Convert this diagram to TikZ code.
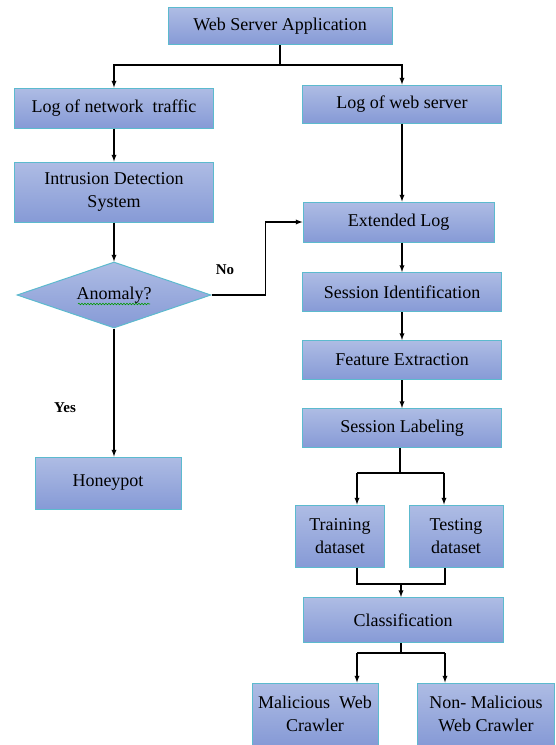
\documentclass[tikz,border=0pt]{standalone}
\usepackage{fontspec}
\setmainfont{Liberation Serif}
\usetikzlibrary{shapes.geometric}
\usetikzlibrary{positioning}
\usetikzlibrary{calc}
\usetikzlibrary{decorations.pathmorphing}
\definecolor{boxtop}{RGB}{174,188,228}
\definecolor{boxbot}{RGB}{134,154,214}
\definecolor{boxline}{RGB}{92,186,206}
\tikzset{every picture/.style={line width=1.3pt},
  flowbox/.style={rectangle,draw=boxline,line width=1pt,top color=boxtop,bottom color=boxbot,inner sep=0pt,align=center,font=\fontsize{18}{23}\selectfont},
  decision/.style={diamond,draw=boxline,line width=1pt,top color=boxtop,bottom color=boxbot,inner sep=0pt,aspect=2.9,font=\fontsize{18}{23}\selectfont},
  answer/.style={font=\bfseries\fontsize{15}{18}\selectfont}}

\begin{document}
\begin{tikzpicture}[x=1pt,y=-1pt]
\useasboundingbox (0,0) rectangle (555,745);
\node (web) at (280,26) [flowbox,minimum width=224pt,minimum height=37pt] {Web Server Application};
\node (lognet) at (114,108) [flowbox,minimum width=199pt,minimum height=40pt] {Log of network\ \ traffic};
\node (logweb) at (402,104) [flowbox,minimum width=199pt,minimum height=38pt] {Log of web server};
\node (ids) at (114,192) [flowbox,minimum width=199pt,minimum height=60pt] {Intrusion Detection\\System};
\node (anom) at (114,295) [decision,minimum width=194pt,minimum height=66pt] {Anomaly?};
\node (ext) at (398.5,222) [flowbox,minimum width=191pt,minimum height=40pt] {Extended Log};
\node (sid) at (402,292) [flowbox,minimum width=199pt,minimum height=39pt] {Session Identification};
\node (feat) at (402,360) [flowbox,minimum width=199pt,minimum height=39pt] {Feature Extraction};
\node (slab) at (402,428) [flowbox,minimum width=199pt,minimum height=39pt] {Session Labeling};
\node (honey) at (108,483) [flowbox,minimum width=146pt,minimum height=52pt] {Honeypot};
\node (train) at (340,536) [flowbox,minimum width=89pt,minimum height=62pt] {Training\\dataset};
\node (test) at (456,536) [flowbox,minimum width=94pt,minimum height=62pt] {Testing\\dataset};
\node (cls) at (403,620) [flowbox,minimum width=200pt,minimum height=45pt] {Classification};
\node (mal) at (315,714) [flowbox,minimum width=126pt,minimum height=62pt] {Malicious\ \ Web\\Crawler};
\node (nonmal) at (486,714) [flowbox,minimum width=137pt,minimum height=62pt] {Non- Malicious\\Web Crawler};

% spell check mark under the question
\draw[green!60!black,line width=0.6pt,decorate,decoration={snake,amplitude=0.8pt,segment length=3pt}] ($(anom.center)+(-36,9)$) -- ($(anom.center)+(36,9)$);

\node (no) at (225,270) [answer] {No};
\node (yes) at (65,408) [answer] {Yes};

% top split
\coordinate (split1) at (280,65);
\draw (web) -- (split1);
\draw[-latex] (split1) -| (lognet);
\draw[-latex] (split1) -| (logweb);

% left column
\draw[-latex] (lognet) -- (ids);
\draw[-latex] (ids) -- (anom);
\draw[-latex] (anom.south) -- (anom.south |- honey.north);
\draw[-latex] (anom.east) -- ++(54,0) |- (ext.west);

% right column
\draw[-latex] (logweb) -- (logweb |- ext.north);
\draw[-latex] (sid |- ext.south) -- (sid);
\draw[-latex] (sid) -- (feat);
\draw[-latex] (feat) -- (slab);

% datasets
\coordinate (split2) at (400,473);
\coordinate (sl) at (357,473);
\coordinate (sr) at (444,473);
\draw (split2 |- slab.south) -- (split2);
\draw (sl) -- (sr);
\draw[-latex] (sl) -- (sl |- train.north);
\draw[-latex] (sr) -- (sr |- test.north);

\coordinate (join) at (401,584);
\coordinate (jl) at (357,584);
\coordinate (jr) at (445,584);
\draw (jl |- train.south) -- (jl) -- (jr) -- (jr |- test.south);
\draw[-latex] (join) -- (join |- cls.north);

% results
\coordinate (split3) at (401,653);
\coordinate (cl) at (357,653);
\coordinate (cr) at (445,653);
\draw (split3 |- cls.south) -- (split3);
\draw (cl) -- (cr);
\draw[-latex] (cl) -- (cl |- mal.north);
\draw[-latex] (cr) -- (cr |- nonmal.north);
\end{tikzpicture}
\end{document}
